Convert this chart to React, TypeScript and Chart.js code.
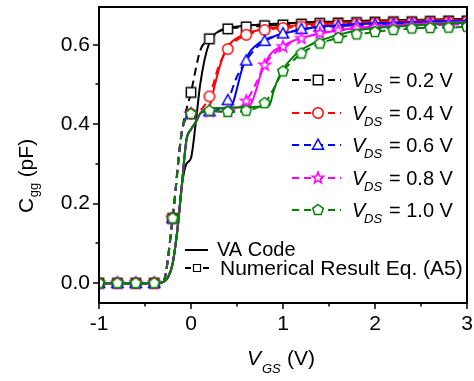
import React, { useEffect, useRef } from "react";
import { Chart, registerables } from "chart.js";
Chart.register(...registerables);

const FONT = '"Liberation Sans", Arial, sans-serif';

// VA Code (solid lines)
const vaX = [-1, -0.6, -0.4, -0.35, -0.3, -0.25, -0.2, -0.15, -0.1, -0.05, 0, 0.05, 0.1, 0.15, 0.2, 0.25, 0.3, 0.35, 0.4, 0.45, 0.5, 0.55, 0.6, 0.65, 0.7, 0.75, 0.8, 0.85, 0.9, 0.95, 1.0, 1.1, 1.2, 1.3, 1.4, 1.5, 1.6, 1.8, 2.0, 2.25, 2.5, 2.75, 3.0];
const vaVds02 = [0, 0, 0, 0, 0.003, 0.015, 0.048, 0.13, 0.245, 0.3, 0.315, 0.4, 0.5, 0.565, 0.605, 0.624, 0.634, 0.639, 0.642, 0.644, 0.646, 0.647, 0.648, 0.649, 0.65, 0.651, 0.652, 0.652, 0.653, 0.653, 0.654, 0.655, 0.656, 0.657, 0.658, 0.658, 0.659, 0.66, 0.661, 0.662, 0.663, 0.664, 0.665];
const vaVds04 = [0, 0, 0, 0, 0.003, 0.015, 0.048, 0.13, 0.245, 0.36, 0.387, 0.405, 0.427, 0.437, 0.445, 0.49, 0.535, 0.572, 0.596, 0.609, 0.617, 0.623, 0.628, 0.632, 0.635, 0.638, 0.64, 0.642, 0.643, 0.645, 0.646, 0.648, 0.65, 0.652, 0.653, 0.654, 0.655, 0.657, 0.658, 0.66, 0.661, 0.662, 0.663];
const vaVds06 = [0, 0, 0, 0, 0.003, 0.015, 0.048, 0.13, 0.245, 0.36, 0.387, 0.405, 0.427, 0.437, 0.44, 0.441, 0.441, 0.441, 0.442, 0.45, 0.49, 0.535, 0.565, 0.585, 0.597, 0.606, 0.612, 0.617, 0.621, 0.625, 0.628, 0.633, 0.638, 0.642, 0.645, 0.647, 0.649, 0.652, 0.654, 0.656, 0.658, 0.66, 0.661];
const vaVds08 = [0, 0, 0, 0, 0.003, 0.015, 0.048, 0.13, 0.245, 0.36, 0.387, 0.405, 0.427, 0.437, 0.44, 0.441, 0.441, 0.441, 0.442, 0.442, 0.442, 0.443, 0.443, 0.45, 0.48, 0.52, 0.55, 0.572, 0.585, 0.592, 0.598, 0.609, 0.617, 0.623, 0.628, 0.632, 0.636, 0.642, 0.646, 0.649, 0.652, 0.655, 0.657];
const vaVds10 = [0, 0, 0, 0, 0.003, 0.015, 0.048, 0.13, 0.245, 0.36, 0.387, 0.405, 0.427, 0.437, 0.44, 0.441, 0.441, 0.441, 0.442, 0.442, 0.442, 0.443, 0.443, 0.443, 0.444, 0.444, 0.445, 0.447, 0.485, 0.516, 0.538, 0.567, 0.587, 0.6, 0.61, 0.618, 0.625, 0.636, 0.642, 0.646, 0.65, 0.653, 0.656];

// Numerical Result Eq. (A5) (dashed lines, markers every 0.2 V)
const numX = [-1.0, -0.9, -0.8, -0.7, -0.6, -0.5, -0.4, -0.3, -0.2, -0.1, 0.0, 0.1, 0.2, 0.3, 0.4, 0.5, 0.6, 0.7, 0.8, 0.9, 1.0, 1.1, 1.2, 1.3, 1.4, 1.5, 1.6, 1.7, 1.8, 1.9, 2.0, 2.1, 2.2, 2.3, 2.4, 2.5, 2.6, 2.7, 2.8, 2.9, 3.0];
const numVds02 = [0, 0, 0, 0, 0, 0, 0, 0.005, 0.163, 0.38, 0.48, 0.585, 0.615, 0.633, 0.64, 0.643, 0.645, 0.646, 0.648, 0.649, 0.65, 0.651, 0.652, 0.653, 0.654, 0.654, 0.655, 0.655, 0.656, 0.656, 0.657, 0.657, 0.658, 0.658, 0.658, 0.659, 0.659, 0.659, 0.66, 0.66, 0.66];
const numVds04 = [0, 0, 0, 0, 0, 0, 0, 0.005, 0.163, 0.38, 0.426, 0.435, 0.47, 0.545, 0.589, 0.612, 0.625, 0.632, 0.637, 0.64, 0.642, 0.644, 0.646, 0.648, 0.649, 0.65, 0.651, 0.652, 0.653, 0.653, 0.654, 0.654, 0.655, 0.655, 0.656, 0.656, 0.656, 0.657, 0.657, 0.657, 0.658];
const numVds06 = [0, 0, 0, 0, 0, 0, 0, 0.005, 0.163, 0.38, 0.426, 0.43, 0.432, 0.438, 0.46, 0.52, 0.56, 0.59, 0.609, 0.62, 0.628, 0.634, 0.639, 0.642, 0.645, 0.646, 0.647, 0.648, 0.649, 0.65, 0.651, 0.651, 0.652, 0.652, 0.653, 0.653, 0.654, 0.654, 0.654, 0.655, 0.655];
const numVds08 = [0, 0, 0, 0, 0, 0, 0, 0.005, 0.163, 0.38, 0.426, 0.43, 0.432, 0.432, 0.433, 0.438, 0.458, 0.5, 0.549, 0.577, 0.595, 0.607, 0.616, 0.623, 0.629, 0.633, 0.636, 0.639, 0.641, 0.643, 0.644, 0.645, 0.646, 0.647, 0.648, 0.649, 0.65, 0.65, 0.651, 0.651, 0.652];
const numVds10 = [0, 0, 0, 0, 0, 0, 0, 0.005, 0.163, 0.38, 0.426, 0.43, 0.434, 0.432, 0.431, 0.431, 0.434, 0.44, 0.453, 0.49, 0.533, 0.558, 0.578, 0.592, 0.603, 0.611, 0.617, 0.622, 0.626, 0.629, 0.632, 0.635, 0.637, 0.639, 0.641, 0.642, 0.642, 0.643, 0.643, 0.644, 0.645];

const vdsLabels = ["0.2", "0.4", "0.6", "0.8", "1.0"];
const seriesColors = ["#000000", "#ff0000", "#0000ff", "#ff00ff", "#008000"];
const markerShapes = ["square", "circle", "triangle", "star", "pentagon"];
const vaSeries = [vaVds02, vaVds04, vaVds06, vaVds08, vaVds10];
const numSeries = [numVds02, numVds04, numVds06, numVds08, numVds10];

const xTickValues = [-1, 0, 1, 2, 3];
const xMinorTicks = [-0.5, 0.5, 1.5, 2.5];
const yTickValues = [0, 0.2, 0.4, 0.6];
const yMinorTicks = [0.1, 0.3, 0.5];

function shapePath(ctx: CanvasRenderingContext2D, shape: string, cx: number, cy: number, r: number) {
  ctx.beginPath();
  if (shape === "square") {
    const s = r * 0.85;
    ctx.rect(cx - s, cy - s, 2 * s, 2 * s);
  } else if (shape === "circle") {
    ctx.arc(cx, cy, r * 0.95, 0, Math.PI * 2);
  } else if (shape === "triangle") {
    ctx.moveTo(cx, cy - r * 1.05);
    ctx.lineTo(cx + r * 1.0, cy + r * 0.75);
    ctx.lineTo(cx - r * 1.0, cy + r * 0.75);
    ctx.closePath();
  } else if (shape === "star") {
    for (let k = 0; k < 10; k++) {
      const rr = k % 2 === 0 ? r * 1.1 : r * 0.45;
      const ang = -Math.PI / 2 + (k * Math.PI) / 5;
      const px = cx + rr * Math.cos(ang);
      const py = cy + rr * Math.sin(ang);
      if (k === 0) ctx.moveTo(px, py);
      else ctx.lineTo(px, py);
    }
    ctx.closePath();
  } else if (shape === "pentagon") {
    for (let k = 0; k < 5; k++) {
      const ang = -Math.PI / 2 + (k * 2 * Math.PI) / 5;
      const px = cx + r * Math.cos(ang);
      const py = cy + r * Math.sin(ang);
      if (k === 0) ctx.moveTo(px, py);
      else ctx.lineTo(px, py);
    }
    ctx.closePath();
  }
}

function makeMarker(shape: string, color: string, r: number) {
  const size = 16;
  const c = document.createElement("canvas");
  c.width = size;
  c.height = size;
  const g = c.getContext("2d")!;
  shapePath(g, shape, size / 2, size / 2, r);
  g.fillStyle = "#ffffff";
  g.fill();
  g.lineWidth = 1.5;
  g.strokeStyle = color;
  g.stroke();
  return c;
}

export default function App() {
  const ref = useRef<HTMLCanvasElement>(null);

  useEffect(() => {
    const markers = markerShapes.map((s, i) => makeMarker(s, seriesColors[i], 5.5));

    const datasets: any[] = [];
    for (let i = 0; i < 5; i++) {
      datasets.push({
        label: "VA " + vdsLabels[i],
        data: vaX.map((x, k) => ({ x, y: vaSeries[i][k] })),
        borderColor: seriesColors[i],
        borderWidth: 2,
        pointRadius: 0,
        fill: false,
        cubicInterpolationMode: "monotone",
        order: 10 - 2 * i,
      });
      datasets.push({
        label: "Num " + vdsLabels[i],
        data: numX.map((x, k) => ({ x, y: numSeries[i][k] })),
        borderColor: seriesColors[i],
        borderWidth: 2,
        borderDash: [8, 5],
        pointStyle: markers[i],
        pointRadius: (c: any) => (c.dataIndex % 2 === 0 ? 5 : 0),
        pointHoverRadius: 0,
        fill: false,
        cubicInterpolationMode: "monotone",
        order: 9 - 2 * i,
      });
    }

    const decor = {
      id: "decor",
      afterDraw(chart: any) {
        const { ctx, chartArea: a, scales } = chart;
        const xs = scales.x;
        const ys = scales.y;
        ctx.save();
        ctx.strokeStyle = "#000";
        ctx.lineWidth = 2;
        ctx.setLineDash([]);
        ctx.strokeRect(a.left, a.top, a.right - a.left, a.bottom - a.top);
        ctx.lineWidth = 1.5;
        ctx.beginPath();
        xTickValues.forEach((v) => {
          const p = Math.round(xs.getPixelForValue(v));
          ctx.moveTo(p, a.bottom);
          ctx.lineTo(p, a.bottom + 6);
        });
        xMinorTicks.forEach((v) => {
          const p = Math.round(xs.getPixelForValue(v));
          ctx.moveTo(p, a.bottom);
          ctx.lineTo(p, a.bottom + 3.5);
        });
        yTickValues.forEach((v) => {
          const p = Math.round(ys.getPixelForValue(v));
          ctx.moveTo(a.left, p);
          ctx.lineTo(a.left - 6, p);
        });
        yMinorTicks.forEach((v) => {
          const p = Math.round(ys.getPixelForValue(v));
          ctx.moveTo(a.left, p);
          ctx.lineTo(a.left - 3.5, p);
        });
        ctx.stroke();

        ctx.fillStyle = "#000";
        ctx.textBaseline = "alphabetic";
        ctx.textAlign = "left";

        // X title: V_GS (V)
        ctx.font = `italic 21px ${FONT}`;
        ctx.fillText("V", 247, 365);
        ctx.font = `italic 13px ${FONT}`;
        ctx.fillText("GS", 262, 373);
        ctx.font = `21px ${FONT}`;
        ctx.fillText("(V)", 287, 365);

        // Y title: C_gg (pF) rotated
        ctx.save();
        ctx.translate(33, 213);
        ctx.rotate(-Math.PI / 2);
        ctx.font = `21px ${FONT}`;
        ctx.fillText("C", 0, 0);
        const cw = ctx.measureText("C").width;
        ctx.font = `13px ${FONT}`;
        ctx.fillText("gg", cw + 0.5, 5);
        const gw = ctx.measureText("gg").width;
        ctx.font = `21px ${FONT}`;
        ctx.fillText("(pF)", cw + gw + 6, 0);
        ctx.restore();

        // Legend 1: V_DS rows
        for (let i = 0; i < 5; i++) {
          const cy = Math.round(80 + i * 32.5);
          ctx.strokeStyle = seriesColors[i];
          ctx.lineWidth = 2;
          ctx.setLineDash([7, 5]);
          ctx.beginPath();
          ctx.moveTo(292, cy);
          ctx.lineTo(341, cy);
          ctx.stroke();
          ctx.setLineDash([]);
          ctx.drawImage(markers[i], 318 - 8, cy - 8);
          ctx.fillStyle = "#000";
          ctx.font = `italic 20px ${FONT}`;
          ctx.fillText("V", 352, cy + 7);
          ctx.font = `italic 13px ${FONT}`;
          ctx.fillText("DS", 364, cy + 13);
          ctx.font = `20px ${FONT}`;
          ctx.fillText("= " + vdsLabels[i] + " V", 389, cy + 7);
        }

        // Legend 2
        ctx.strokeStyle = "#000";
        ctx.lineWidth = 2;
        ctx.beginPath();
        ctx.moveTo(185, 250);
        ctx.lineTo(208, 250);
        ctx.stroke();
        ctx.setLineDash([6, 3]);
        ctx.beginPath();
        ctx.moveTo(185, 268);
        ctx.lineTo(209, 268);
        ctx.stroke();
        ctx.setLineDash([]);
        ctx.beginPath();
        ctx.rect(193.5, 264.5, 7, 7);
        ctx.fillStyle = "#fff";
        ctx.fill();
        ctx.lineWidth = 1.2;
        ctx.stroke();
        ctx.fillStyle = "#000";
        ctx.font = `20px ${FONT}`;
        ctx.fillText("VA Code", 217, 256);
        ctx.font = `21px ${FONT}`;
        ctx.fillText("Numerical Result Eq. (A5)", 220, 275);
        ctx.restore();
      },
    };

    const chart = new Chart(ref.current!, {
      type: "line",
      data: { datasets },
      options: {
        animation: false,
        responsive: false,
        devicePixelRatio: 1,
        layout: { padding: { left: 0, right: 7, top: 2, bottom: 0 } },
        plugins: { legend: { display: false }, tooltip: { enabled: false } },
        events: [],
        scales: {
          x: {
            type: "linear",
            min: -1,
            max: 3,
            grid: { display: false, drawTicks: false },
            border: { display: false },
            afterBuildTicks: (s: any) => {
              s.ticks = xTickValues.map((v) => ({ value: v }));
            },
            afterFit: (s: any) => {
              s.height = 78;
              s.paddingLeft = 0;
              s.paddingRight = 0;
            },
            ticks: {
              color: "#000",
              font: { family: FONT, size: 21 },
              padding: 9,
              maxRotation: 0,
              autoSkip: false,
              callback: (v: any) => String(v),
            },
          },
          y: {
            type: "linear",
            min: -0.05,
            max: 0.695,
            grid: { display: false, drawTicks: false },
            border: { display: false },
            afterBuildTicks: (s: any) => {
              s.ticks = yTickValues.map((v) => ({ value: v }));
            },
            afterFit: (s: any) => {
              s.width = 99;
              s.paddingTop = 0;
              s.paddingBottom = 0;
            },
            ticks: {
              color: "#000",
              font: { family: FONT, size: 21 },
              padding: 9,
              autoSkip: false,
              callback: (v: any) => Number(v).toFixed(1),
            },
          },
        },
      } as any,
      plugins: [decor],
    });
    return () => chart.destroy();
  }, []);

  return (
    <div style={{ position: "fixed", left: 0, top: 0, width: 474, height: 381, background: "#fff" }}>
      <canvas ref={ref} width={474} height={381} style={{ display: "block" }} />
    </div>
  );
}
